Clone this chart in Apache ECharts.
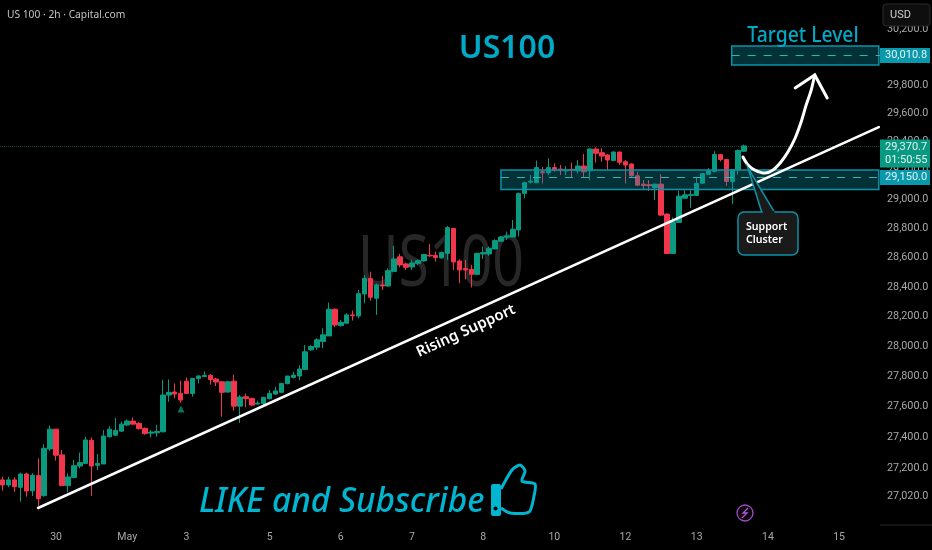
<!DOCTYPE html>
<html><head><meta charset="utf-8">
<style>html,body{margin:0;padding:0;background:#000}#c{width:932px;height:550px}</style>
<script src="https://cdn.jsdelivr.net/npm/echarts@6/dist/echarts.min.js"></script>
</head><body><div id="c"></div>
<script>
// Candles (bar index = array position)
const candleOpen = [27123,27090,27123,27075,27161,27053,27151,27021,27324,27453,27285,27086,27138,27213,27230,27380,27218,27226,27403,27414,27440,27480,27506,27491,27458,27427,27429,27436,27677,27697,27688,27769,27688,27787,27800,27807,27783,27765,27697,27769,27604,27666,27655,27618,27622,27653,27684,27695,27752,27794,27803,27847,27977,27995,28033,28070,28249,28139,28155,28211,28204,28352,28456,28323,28413,28406,28505,28604,28556,28535,28560,28576,28615,28613,28597,28628,28799,28576,28524,28519,28485,28624,28624,28658,28711,28738,28740,28788,29040,29118,29114,29190,29183,29219,29209,29197,29207,29197,29230,29197,29349,29323,29307,29268,29328,29260,29244,29162,29104,29100,29081,29104,28897,28627,28840,29007,29026,29026,29111,29172,29193,29310,29275,29123,29205,29333];
const candleClose = [27090,27123,27079,27161,27051,27153,27002,27328,27453,27283,27086,27142,27215,27235,27382,27213,27230,27408,27453,27445,27486,27506,27486,27456,27425,27434,27438,27677,27695,27684,27644,27688,27787,27803,27807,27780,27763,27695,27765,27604,27664,27653,27611,27624,27662,27688,27704,27754,27803,27809,27849,27964,27999,28044,28077,28249,28143,28161,28211,28206,28354,28458,28330,28413,28406,28510,28590,28549,28533,28563,28578,28620,28611,28599,28633,28804,28569,28515,28515,28485,28628,28633,28663,28715,28740,28747,28793,29040,29114,29125,29219,29183,29219,29202,29202,29202,29202,29230,29190,29349,29319,29300,29272,29328,29256,29237,29162,29097,29095,29093,29104,28890,28627,28844,29021,29030,29033,29109,29177,29198,29310,29275,29123,29205,29338,29370.7];
const candleLow = [27053,27075,27047,26982,27015,27019,26955,27015,27311,27248,27086,27043,27134,27198,27230,27021,27187,27226,27399,27408,27436,27473,27484,27451,27416,27399,27403,27431,27633,27655,27626,27684,27666,27754,27798,27745,27736,27535,27693,27574,27495,27596,27604,27615,27611,27649,27677,27693,27749,27787,27776,27843,27970,27977,27988,28070,28128,28132,28155,28173,28188,28289,28307,28211,28379,28402,28503,28533,28515,28515,28549,28572,28602,28572,28590,28583,28515,28424,28451,28397,28481,28590,28611,28656,28706,28720,28738,28743,29006,29109,29114,29109,29167,29190,29167,29167,29151,29179,29151,29132,29254,29260,29202,29268,29237,29109,29155,29090,29062,29057,28994,28884,28623,28623,28838,29005,28940,29021,29106,29170,29186,29263,29092,28966,29170,29328];
const candleHigh = [27144,27144,27140,27170,27170,27166,27263,27354,27477,27453,27317,27166,27252,27300,27403,27399,27291,27447,27473,27526,27502,27517,27530,27500,27464,27447,27482,27776,27780,27754,27772,27794,27791,27809,27834,27816,27791,27765,27769,27811,27677,27688,27660,27640,27666,27710,27732,27758,27803,27831,27876,28009,28009,28055,28121,28294,28256,28177,28222,28240,28379,28481,28503,28424,28474,28526,28679,28624,28565,28583,28587,28624,28692,28640,28640,28815,28799,28587,28583,28549,28628,28674,28674,28724,28747,28777,28857,29045,29121,29167,29268,29225,29284,29249,29237,29230,29253,29272,29314,29354,29361,29354,29314,29333,29328,29272,29249,29190,29132,29132,29109,29174,28902,28874,29058,29062,29062,29150,29181,29216,29333,29314,29279,29209,29345,29380];

// Axes
const priceTicks = [27020,27200,27400,27600,27800,28000,28200,28400,28600,28800,29000,29200,29400,29600,29800,30200];
const dayTickIndex = [9,21,31,45,57,69,81,93,105,117,129,141];
const dayTickLabel = ['30','May','3','5','6','7','8','10','12','13','14','15'];

// Drawn studies, in [bar, price]
const trendLine = [[5.96,26942],[147.7,29503]];
const arrowCurve = [[124.8,29293],[125.65,29237],[126.8,29202],[128.5,29181],[129.86,29202],[131.2,29258],[132.4,29329],[133.6,29426],[134.6,29538],[135.4,29651],[136.3,29764],[136.9,29871]];
const arrowHead = [[133.6,29779],[136.9,29871],[139,29708]];
const supportZone = {x0:84,x1:147.7,top:29202,mid:29150,bottom:29067};
const targetZone = {x0:122.9,x1:147.7,top:30078,mid:30010.8,bottom:29942};
const lastPrice = 29370.7, countdown = '01:50:55';
const buyMarker = [[30.06,27585]];

const fmt = v => v.toLocaleString('en-US',{minimumFractionDigits:1,maximumFractionDigits:1});
const AX = 'Roboto, sans-serif';
const CY = '#00a9c6';
const tag = (bg,extra) => Object.assign({show:true,position:'end',distance:0,backgroundColor:bg,color:'#e8f2f2',fontFamily:AX,fontSize:11,lineHeight:13,width:44,align:'left',padding:[1,1,1,5]},extra||{});

const candleRows = candleOpen.map((o,i)=>[i,o,candleClose[i],candleLow[i],candleHigh[i]]);

const option = {
  backgroundColor:'#000', animation:false,
  grid:{left:0,top:0,width:880,height:525,show:false,outerBoundsMode:'none'},
  xAxis:{type:'value',min:-0.45,max:147.9,containShape:false,splitLine:{show:false},axisLine:{show:false},axisTick:{show:false},
    axisLabel:{color:'#a8a8a8',fontFamily:AX,fontSize:10.5,margin:7,customValues:dayTickIndex,
      formatter:v=>dayTickLabel[dayTickIndex.indexOf(Math.round(v))]||''}},
  yAxis:{type:'log',logBase:10,min:26833,max:30410,position:'right',containShape:false,splitLine:{show:false},axisLine:{show:false},axisTick:{show:false},
    axisLabel:{color:'#a8a8a8',fontFamily:AX,fontSize:10.8,margin:7,customValues:priceTicks,formatter:v=>fmt(Math.round(v))}},
  series:[
    {type:'candlestick',name:'US100',z:2,barWidth:5,data:candleRows,encode:{x:0,y:[1,2,3,4]},
      itemStyle:{color:'#0a9a80',color0:'#f2364c',borderColor:'#0a9a80',borderColor0:'#f2364c',borderWidth:1},
      markLine:{silent:true,symbol:'none',z:1,animation:false,data:[[
        {coord:[-0.45,lastPrice],lineStyle:{color:'#0a4f42',type:'dotted',width:1},
         label:tag('#089981',{formatter:fmt(lastPrice)+'\n'+countdown,offset:[0,7.5]})},
        {coord:[147.9,lastPrice]}
      ]]}},
    {type:'scatter',name:'marker',z:3,symbol:'triangle',symbolSize:[7,7],data:buyMarker,itemStyle:{color:'#0c8f78'}},
    {type:'line',name:'zones',z:4,data:[],showSymbol:false,
      markArea:{silent:true,z:3,animation:false,
        itemStyle:{color:'rgba(8,150,170,0.33)',borderColor:'#0b93a6',borderWidth:1.5},
        data:[[{coord:[supportZone.x0,supportZone.top]},{coord:[supportZone.x1,supportZone.bottom]}],
              [{coord:[targetZone.x0,targetZone.top]},{coord:[targetZone.x1,targetZone.bottom]}]]},
      markLine:{silent:true,symbol:'none',z:5,animation:false,
        lineStyle:{color:'#2fb8ae',type:[8,8],width:1},
        data:[[{coord:[supportZone.x0,supportZone.mid],label:tag('#0899ad',{formatter:fmt(supportZone.mid)})},{coord:[147.9,supportZone.mid]}],
              [{coord:[targetZone.x0,targetZone.mid],label:tag('#0899ad',{formatter:fmt(targetZone.mid)})},{coord:[147.9,targetZone.mid]}]]}},
    {type:'line',name:'Rising Support',z:6,data:trendLine,showSymbol:false,symbol:'none',lineStyle:{color:'#fff',width:2.5,cap:'round'},clip:false},
    {type:'line',name:'arrow',z:7,data:arrowCurve,showSymbol:false,symbol:'none',smooth:0.3,lineStyle:{color:'#fff',width:3,cap:'round'}},
    {type:'line',name:'arrowHead',z:7,data:arrowHead,showSymbol:false,symbol:'none',lineStyle:{color:'#fff',width:3,cap:'round',join:'miter'}}
  ],
  graphic:{elements:[
    {type:'text',z:-1,x:441,y:265,scaleX:0.77,style:{text:'US100',fill:'#272727',font:'72px "Noto Sans"',align:'center',verticalAlign:'middle'}},
    {type:'text',z:50,x:7,y:15,scaleX:0.89,style:{text:'US 100 · 2h · Capital.com',fill:'#c4c4c4',font:'11.5px "Noto Sans"',verticalAlign:'middle'}},
    {type:'text',z:50,x:507,y:49,style:{text:'US100',fill:CY,font:'600 32px "Noto Sans"',align:'center',verticalAlign:'middle'}},
    {type:'text',z:50,x:803,y:36,scaleX:0.92,style:{text:'Target Level',fill:CY,font:'500 21px "Noto Sans"',align:'center',verticalAlign:'middle'}},
    {type:'text',z:50,x:466,y:331,rotation:24.4*Math.PI/180,style:{text:'Rising Support',fill:'#fff',font:'600 15px "Noto Sans"',align:'center',verticalAlign:'middle'}},
    {type:'text',z:50,x:199,y:502,scaleX:0.953,style:{text:'LIKE and Subscribe',fill:'#00b5d0',font:'italic 500 35px "Noto Sans"',verticalAlign:'middle'}},
    // thumbs up
    {type:'rect',z:50,shape:{x:491,y:484,width:10,height:32,r:2},style:{fill:'#00b5d0'}},
    {type:'circle',z:51,shape:{cx:495.5,cy:508.5,r:2},style:{fill:'#000'}},
    {type:'polyline',z:50,shape:{smooth:0.25,points:[[501,489],[512,470],[520,465],[525,471],[522,481],[535,484],[534,496],[529,512],[510,513],[501,508]]},style:{stroke:'#00b5d0',lineWidth:3,fill:null}},
    // callout
    {type:'polygon',z:60,shape:{points:[[748,168],[762,213],[775,213]]},style:{fill:'#1a1a1a',stroke:'#0b93a6',lineWidth:1.5}},
    {type:'rect',z:60,shape:{x:738,y:212,width:60,height:43,r:6},style:{fill:'#1a1a1a',stroke:'#0b93a6',lineWidth:1.5}},
    {type:'rect',z:61,shape:{x:762.8,y:211,width:11.6,height:3},style:{fill:'#1a1a1a'}},
    {type:'text',z:62,x:746,y:233,scaleX:0.92,style:{text:'Support\nCluster',fill:'#fff',font:'600 11.5px "Noto Sans"',lineHeight:12.5,verticalAlign:'middle'}},
    // USD button
    {type:'rect',z:70,shape:{x:883,y:4,width:47,height:22,r:3},style:{fill:'#0e0e0e',stroke:'#2a2a2a',lineWidth:1}},
    {type:'text',z:71,x:890,y:15,style:{text:'USD',fill:'#cfcfcf',font:'11px "Roboto"',verticalAlign:'middle'}},
    // bolt
    {type:'circle',z:50,shape:{cx:745,cy:513,r:8},style:{fill:'#0a040c',stroke:'#a24bc4',lineWidth:1.3}},
    {type:'polyline',z:51,shape:{points:[[748,508],[743,513],[747,513],[742,518]]},style:{stroke:'#b457d8',lineWidth:1.3,fill:null}},
    // axis corner
    {type:'line',z:50,shape:{x1:880,y1:525,x2:932,y2:525},style:{stroke:'#262626',lineWidth:1}}
  ]}
};
const chart = echarts.init(document.getElementById('c'));
chart.setOption(option);
</script></body></html>
